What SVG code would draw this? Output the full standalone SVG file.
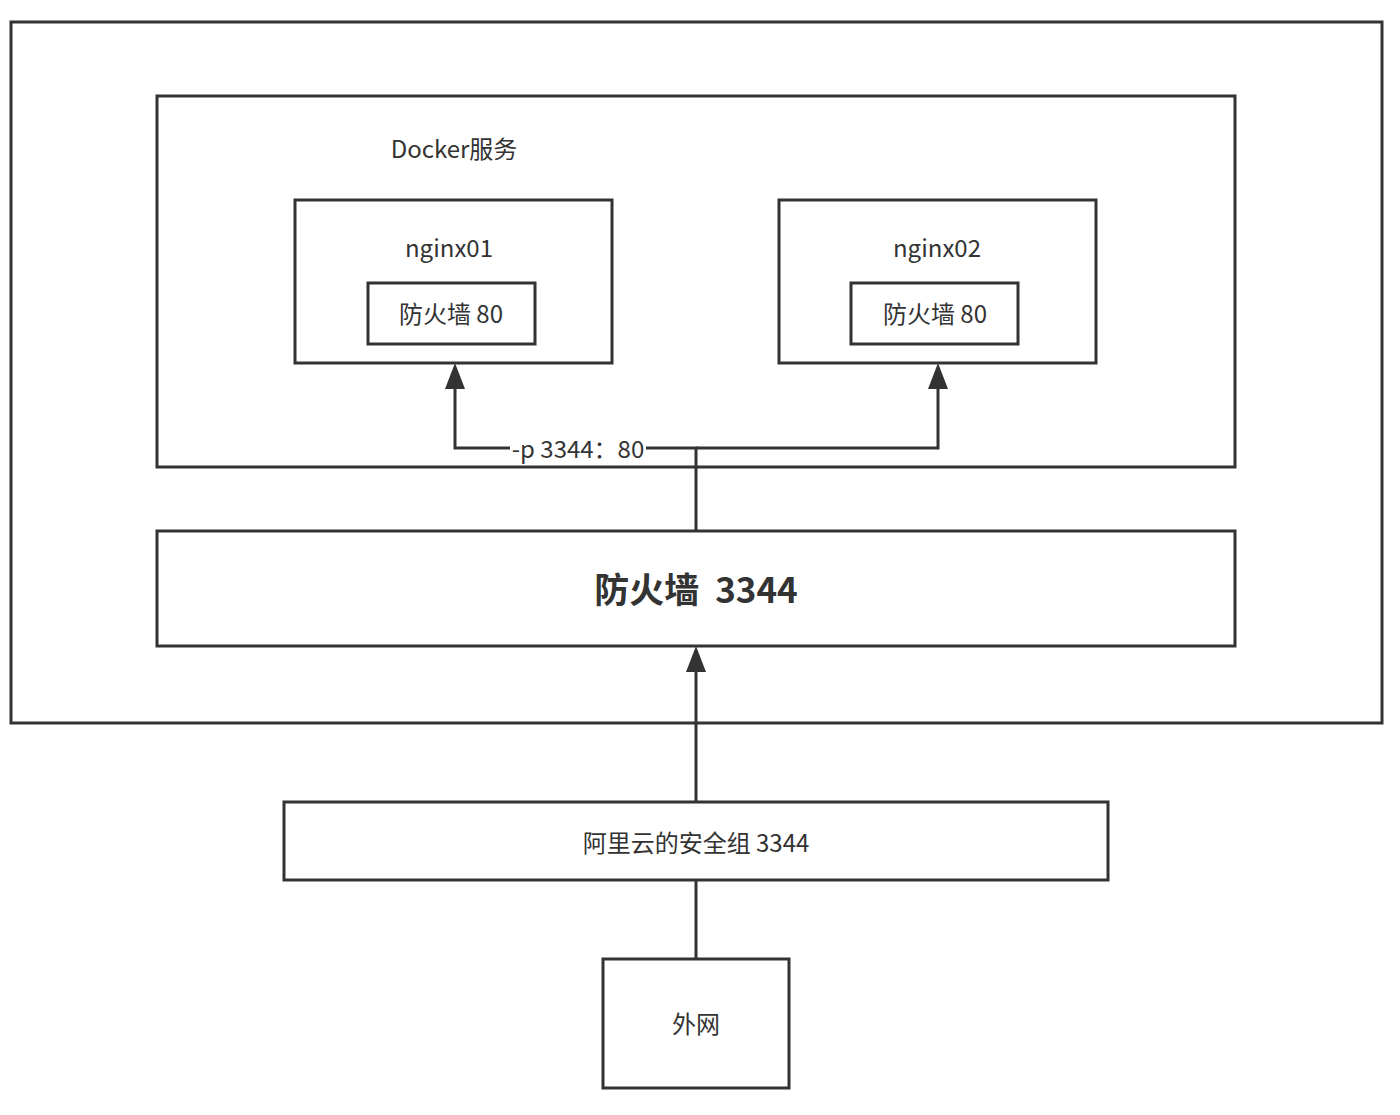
<svg xmlns="http://www.w3.org/2000/svg" width="1400" height="1115" viewBox="0 0 1400 1115">
<defs>
<style>
.box{fill:#fff;stroke:#333;stroke-width:3}
.t{font-family:"Noto Sans CJK SC","Noto Sans",sans-serif;fill:#333;font-size:24px;text-anchor:middle;dominant-baseline:central}
.b{font-size:35px;font-weight:bold}
.c{fill:none;stroke:#333;stroke-width:3}
</style>
</defs>
<rect width="1400" height="1115" fill="#fff"/>
<g id="host"><rect class="box" x="11" y="22" width="1371" height="701"/></g>
<g id="docker"><rect class="box" x="157" y="96" width="1078" height="371"/>
<text class="t" x="454" y="147">Docker服务</text></g>
<g id="nginx01"><rect class="box" x="295" y="200" width="317" height="163"/>
<text class="t" x="449" y="246">nginx01</text></g>
<g id="fw01"><rect class="box" x="368" y="283" width="167" height="61"/>
<text class="t" x="451" y="312">防火墙 80</text></g>
<g id="nginx02"><rect class="box" x="779" y="200" width="317" height="163"/>
<text class="t" x="937" y="246">nginx02</text></g>
<g id="fw02"><rect class="box" x="851" y="283" width="167" height="61"/>
<text class="t" x="935" y="312">防火墙 80</text></g>
<g id="fw3344"><rect class="box" x="157" y="531" width="1078" height="115"/>
<text class="t b" x="696" y="587" xml:space="preserve">防火墙  3344</text></g>
<g id="aliyun"><rect class="box" x="284" y="802" width="824" height="78"/>
<text class="t" x="696" y="841">阿里云的安全组 3344</text></g>
<g id="internet"><rect class="box" x="603" y="959" width="186" height="129"/>
<text class="t" x="696" y="1022">外网</text></g>
<g id="connectors">
<path class="c" d="M696,531 V448 H455 V388"/>
<path d="M455,363 L445,389 L465,389 z" fill="#333"/>
<path class="c" d="M696,448 H938 V388"/>
<path d="M938,363 L928,389 L948,389 z" fill="#333"/>
<path class="c" d="M696,802 V670"/>
<path d="M696,646 L686,672 L706,672 z" fill="#333"/>
<path class="c" d="M696,959 V880"/>
<rect x="510" y="436" width="136" height="24" fill="#fff"/>
<text class="t" x="578" y="447">-p 3344：80</text>
</g>
</svg>
